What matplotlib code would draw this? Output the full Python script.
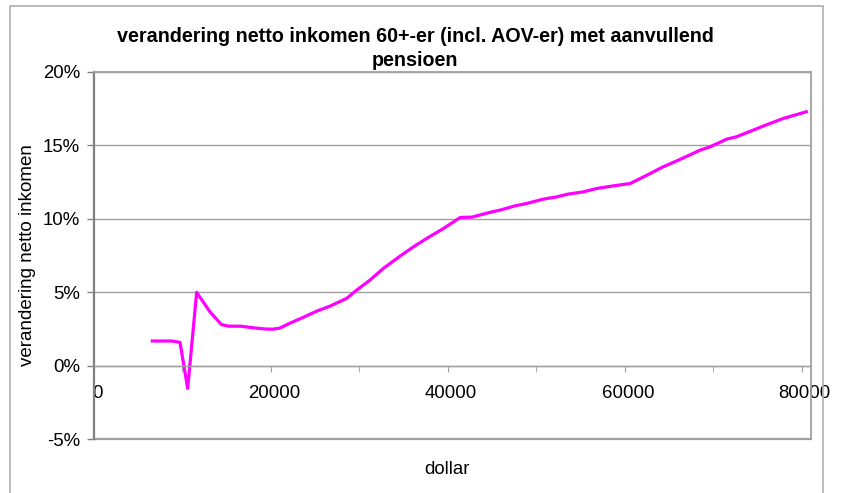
import matplotlib
matplotlib.use("Agg")
import matplotlib.pyplot as plt
from matplotlib.ticker import MultipleLocator, FuncFormatter
from matplotlib.patches import Rectangle
from matplotlib.transforms import ScaledTranslation

income = [6590, 8780, 9720, 10590, 11600, 13100, 14400, 15200, 16500, 18000, 19500, 20300,
          21000, 22100, 23650, 25200, 26700, 28550, 29700, 31200, 32700, 34600, 36100,
          37600, 39500, 41400, 42700, 44700, 45900, 47600, 48900, 50800, 52300, 53600,
          55300, 56800, 58700, 60600, 62500, 64300, 66200, 68500, 69600, 71500, 72600,
          74500, 75600, 77900, 80500]
change_pct = [1.67, 1.67, 1.58, -1.56, 4.98, 3.66, 2.79, 2.68, 2.68, 2.57, 2.48, 2.48,
              2.55, 2.87, 3.28, 3.71, 4.05, 4.57, 5.14, 5.82, 6.61, 7.45, 8.08,
              8.65, 9.33, 10.08, 10.10, 10.42, 10.58, 10.87, 11.03, 11.33, 11.48, 11.67,
              11.82, 12.05, 12.23, 12.39, 12.96, 13.52, 14.02, 14.66, 14.88, 15.41, 15.57,
              16.02, 16.29, 16.82, 17.27]

title = "verandering netto inkomen 60+-er (incl. AOV-er) met aanvullend\npensioen"
ylabel = "verandering netto inkomen"
xlabel = "dollar"

plt.rcParams['font.family'] = ['Liberation Sans', 'DejaVu Sans']

W, H = 847, 493
fig = plt.figure(figsize=(W / 100, H / 100), dpi=100)
ax = fig.add_axes([94 / W, 1 - 439 / H, (810.7 - 94) / W, (439 - 71.7) / H])

ax.plot(income, change_pct, color='#FF00FF', lw=2.3, solid_joinstyle='round')

ax.set_xlim(0, 81000)
ax.set_ylim(-5, 20)
ax.yaxis.set_major_locator(MultipleLocator(5))
ax.yaxis.set_major_formatter(FuncFormatter(lambda v, p: f"{v:.0f}%"))
ax.xaxis.set_major_locator(MultipleLocator(20000))
ax.xaxis.set_minor_locator(MultipleLocator(10000))
ax.xaxis.set_major_formatter(FuncFormatter(lambda v, p: f"{v:.0f}"))

ax.grid(axis='y', color='#A0A0A0', lw=1)
ax.set_axisbelow(True)

ax.spines['bottom'].set_position(('data', 0))
ax.spines['bottom'].set_color('#A0A0A0')
ax.spines['bottom'].set_linewidth(1)
ax.spines['left'].set_color('#808080')
ax.spines['left'].set_linewidth(1.6)
for s in ('top', 'right'):
    ax.spines[s].set_color('#A0A0A0')
    ax.spines[s].set_linewidth(1.3)
ax.axhline(-5, color='#A0A0A0', lw=1.6, clip_on=False)

ax.tick_params(axis='x', which='both', direction='out', length=4, color='#A0A0A0',
               labelsize=13.4, pad=10)
ax.tick_params(axis='y', direction='out', length=5, color='#808080', width=1,
               labelsize=13.4, pad=5)

offset = ScaledTranslation(3 / 100, 0, fig.dpi_scale_trans)
for lab in ax.get_xticklabels():
    lab.set_transform(lab.get_transform() + offset)

fig.text(415 / W, 1 - 48.5 / H, title, ha='center', va='center', fontsize=14.2,
         fontweight='bold', linespacing=1.3)
fig.text(27 / W, 1 - 255 / H, ylabel, rotation=90, ha='center', va='center', fontsize=13.5)
fig.text(447 / W, 1 - 470 / H, xlabel, ha='center', va='center', fontsize=13.4)

fig.patches.append(Rectangle((9.5 / W, -0.02), (822.7 - 9.5) / W, 1.02 - 6 / H,
                             transform=fig.transFigure, fill=False,
                             edgecolor='#B0B0B0', lw=1.2))

fig.savefig('out.png', dpi=100)
